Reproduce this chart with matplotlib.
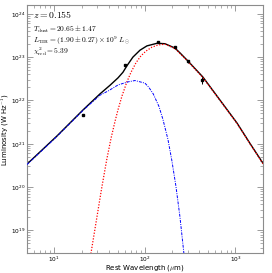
import matplotlib
matplotlib.use("Agg")
import matplotlib.pyplot as plt
import numpy as np

plt.rcParams['mathtext.fontset'] = 'cm'
plt.rcParams['font.family'] = ['DejaVu Sans']

# Observed photometry (rest wavelength in micron, luminosity W/Hz)
obs_wave = [20.8, 60.6, 138.5, 216.5, 303.0, 432.9]
obs_lum = [4.6e21, 6.6e22, 2.19e23, 1.70e23, 8.0e22, 2.95e22]
obs_err = [0.2e21, 0.3e22, 1.2e22, 1.0e22, 0.6e22, 0.55e22]

# Total model (log wavelength, log luminosity)
tot_logw = [0.699, 1.030, 1.317, 1.504, 1.615, 1.703, 1.758, 1.802, 1.868, 1.946,
            2.023, 2.134, 2.222, 2.332, 2.387, 2.476, 2.641, 2.829, 3.017, 3.160, 3.304]
tot_logl = [20.53, 21.18, 21.78, 22.15, 22.35, 22.52, 22.65, 22.80, 23.00, 23.16,
            23.26, 23.32, 23.31, 23.21, 23.10, 22.91, 22.54, 22.01, 21.48, 21.01, 20.55]

# Cold greybody component
cold_logw = [1.394, 1.468, 1.504, 1.523, 1.578, 1.626, 1.671, 1.703, 1.747, 1.802,
             1.847, 1.902, 1.957, 2.012, 2.078, 2.144, 2.222, 2.332, 2.476, 2.641,
             2.829, 3.017, 3.160, 3.304]
cold_logl = [18.33, 19.27, 19.73, 19.97, 20.62, 21.12, 21.52, 21.78, 22.10, 22.43,
             22.65, 22.87, 23.03, 23.14, 23.23, 23.28, 23.30, 23.20, 22.90, 22.53,
             22.00, 21.47, 21.00, 20.54]

# Warm / power-law component
warm_logw = [0.699, 1.030, 1.317, 1.504, 1.596, 1.706, 1.817, 1.891, 2.001, 2.045,
             2.093, 2.156, 2.200, 2.255, 2.299, 2.343, 2.387, 2.431, 2.453]
warm_logl = [20.52, 21.17, 21.77, 22.12, 22.22, 22.36, 22.43, 22.46, 22.40, 22.30,
             22.15, 21.86, 21.56, 21.10, 20.60, 20.02, 19.32, 18.47, 17.95]

fig = plt.figure(figsize=(2.72, 2.73), dpi=100)
ax = fig.add_axes([27/272, 20/273, 235.7/272, 248/273])

ax.plot(10**np.array(tot_logw), 10**np.array(tot_logl), color='black', lw=1.0, zorder=2)
ax.plot(10**np.array(cold_logw), 10**np.array(cold_logl), color='red', lw=0.9,
        ls=(0, (1, 1.3)), zorder=3)
ax.plot(10**np.array(warm_logw), 10**np.array(warm_logl), color='blue', lw=0.7,
        ls=(0, (3, 1.2, 1, 1.2)), zorder=4)
ax.errorbar(obs_wave, obs_lum, yerr=obs_err, fmt='s', color='black', ms=1.6,
            elinewidth=0.7, capsize=0, zorder=5)

ax.set_xscale('log')
ax.set_yscale('log')
ax.set_xlim(5, 2000)
ax.set_ylim(3e18, 1.6e24)

for s in ax.spines.values():
    s.set_color('0.55')
    s.set_linewidth(0.8)
ax.tick_params(which='both', direction='in', top=True, right=True, colors='0.55',
               labelcolor='black', labelsize=4.2)
ax.tick_params(which='major', length=4, width=0.6)
ax.tick_params(which='minor', length=2, width=0.5)
ax.tick_params(axis='x', pad=1.0)
ax.tick_params(axis='y', pad=1.2)

fig.text(145/272, 1 - 268/273, r'Rest Wavelength ($\mu$m)', fontsize=5,
         ha='center', va='center')
fig.text(5.5/272, 1 - 130/273, r'Luminosity (W Hz$^{-1}$)', fontsize=5,
         ha='center', va='center', rotation=90)

ax.text(0.027, 0.96, r'$z = 0.155$', transform=ax.transAxes, fontsize=7, va='center')
ax.text(0.027, 0.903, r'$T_{\rm dust} = 20.65 \pm 1.47$', transform=ax.transAxes,
        fontsize=5.4, va='center')
ax.text(0.027, 0.855, r'$L_{\rm TIR} = (1.90 \pm 0.27)\times 10^{9}\ L_{\odot}$',
        transform=ax.transAxes, fontsize=5.4, va='center')
ax.text(0.027, 0.81, r'$\chi^2_{\rm red} = 5.39$', transform=ax.transAxes,
        fontsize=5.4, va='center')

fig.savefig('out.png', dpi=100)
